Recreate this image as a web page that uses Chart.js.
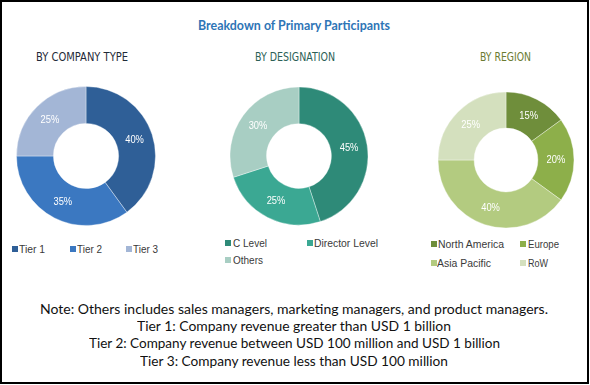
<!DOCTYPE html>
<html><head><meta charset="utf-8">
<script src="https://cdn.jsdelivr.net/npm/chart.js@4.4.1/dist/chart.umd.min.js"></script>
<style>
body{margin:0;background:#fff;}
#wrap{position:relative;width:590px;height:385px;overflow:hidden;background:#fff;}
#frame{position:absolute;left:0;top:0;width:589px;height:384px;border:2px solid #000;box-sizing:border-box;}
.t{position:absolute;white-space:nowrap;line-height:1;transform-origin:0 50%;display:inline-block;}
canvas{position:absolute;}
.sq{position:absolute;width:6px;height:6px;}
</style></head><body>
<div id="wrap"><div id="frame"></div>
<canvas id="c1" width="150" height="150" style="left:11px;top:81px;width:150px;height:150px"></canvas>
<canvas id="c2" width="150" height="150" style="left:224px;top:81px;width:150px;height:150px"></canvas>
<canvas id="c3" width="150" height="150" style="left:431px;top:85px;width:150px;height:150px"></canvas>
</div>
<script>
// ---- data ----
const chartTitle = "Breakdown of Primary Participants";
const panelTitles = ["BY COMPANY TYPE", "BY DESIGNATION", "BY REGION"];
const companyTypeLabels = ["Tier 1", "Tier 2", "Tier 3"];
const companyTypeValues = [40, 35, 25];
const designationLabels = ["C Level", "Director Level", "Others"];
const designationValues = [45, 25, 30];
const regionLabels = ["North America", "Europe", "Asia Pacific", "RoW"];
const regionValues = [15, 20, 40, 25];
const noteLines = [
  "Note: Others includes sales managers, marketing managers, and product managers.",
  "Tier 1: Company revenue greater than USD 1 billion",
  "Tier 2: Company revenue between USD 100 million and USD 1 billion",
  "Tier 3: Company revenue less than USD 100 million"
];

// ---- styles / layout ----
const companyColors = ["#2f5f97", "#3b78c1", "#a3b6d6"];
const designationColors = ["#2e8a78", "#3ba893", "#a8cec3"];
const regionColors = ["#6f8e3b", "#8daf4a", "#b3cb80", "#d4e0be"];
const panelTitleColors = ["#1f2a38", "#2c5f56", "#6b7b31"];

const wrap = document.getElementById('wrap');
function addText(text, o) {
  const s = document.createElement('span');
  s.className = 't';
  s.textContent = text;
  s.style.font = o.font;
  s.style.color = o.color;
  if (o.weight) s.style.fontWeight = o.weight;
  wrap.appendChild(s);
  const r = s.getBoundingClientRect();
  const sc = o.width / r.width;
  s.style.transform = 'scaleX(' + sc + ')';
  const left = (o.cx !== undefined) ? o.cx - o.width / 2 : o.x;
  s.style.left = left + 'px';
  s.style.top = (o.cy - r.height / 2) + 'px';
  return s;
}

addText(chartTitle, {cx: 294, cy: 25, width: 192, font: 'bold 13px Lato, "Noto Sans", sans-serif', color: '#2e75b6'});
const panelTitleBoxes = [[36, 92], [255, 80], [480, 51]];
panelTitles.forEach((t, i) => addText(t, {x: panelTitleBoxes[i][0], cy: 56, width: panelTitleBoxes[i][1],
  font: '13px "Liberation Sans Narrow", "DejaVu Sans Condensed", sans-serif', color: panelTitleColors[i]}));

const noteBoxes = [[308, 508], [325, 314], [342, 411], [360, 308]];
noteLines.forEach((t, i) => addText(t, {cx: 294, cy: noteBoxes[i][0], width: noteBoxes[i][1],
  font: '14px Lato, "Noto Sans", sans-serif', color: '#111'}));

// legends: [squareX, textX, y, textWidth]
const legendLayouts = [
  [[12, 19, 249, 26], [70, 77, 249, 25], [126, 133, 249, 25]],
  [[225, 233, 243, 34], [307, 314, 243, 64], [225, 233, 260, 30]],
  [[431, 438, 244, 66], [520, 528, 244, 31], [431, 437, 263, 54], [520, 528, 263, 20]]
];
function addLegend(labels, colors, layout) {
  labels.forEach((lab, i) => {
    const [sx, tx, y, w] = layout[i];
    const sq = document.createElement('div');
    sq.className = 'sq';
    sq.style.left = sx + 'px';
    sq.style.top = (y - 3) + 'px';
    sq.style.background = colors[i];
    wrap.appendChild(sq);
    addText(lab, {x: tx, cy: y, width: w, font: '11px "Liberation Sans", Arial, sans-serif', color: '#3a3a3a'});
  });
}
addLegend(companyTypeLabels, companyColors, legendLayouts[0]);
addLegend(designationLabels, designationColors, legendLayouts[1]);
addLegend(regionLabels, regionColors, legendLayouts[2]);

// ---- charts ----
const pctPlugin = {
  id: 'pct',
  afterDatasetsDraw(chart) {
    const ctx = chart.ctx;
    const ds = chart.data.datasets[0];
    const meta = chart.getDatasetMeta(0);
    ctx.save();
    ctx.fillStyle = '#ffffff';
    ctx.font = '11px "Liberation Sans", Arial, sans-serif';
    ctx.textAlign = 'center';
    ctx.textBaseline = 'middle';
    meta.data.forEach((arc, i) => {
      const p = arc.getCenterPoint();
      ctx.save();
      ctx.translate(p.x, p.y);
      ctx.scale(0.85, 1);
      ctx.fillText(ds.data[i] + '%', 0, 0);
      ctx.restore();
    });
    ctx.restore();
  }
};
function makeDonut(id, labels, values, colors, radius, cutout) {
  new Chart(document.getElementById(id), {
    type: 'doughnut',
    data: {labels: labels, datasets: [{data: values, backgroundColor: colors,
      borderColor: 'rgba(255,255,255,0.45)', borderWidth: 0.8, radius: radius, cutout: cutout}]},
    options: {
      responsive: false, animation: false,
      layout: {padding: 0},
      plugins: {legend: {display: false}, tooltip: {enabled: false}, title: {display: false}}
    },
    plugins: [pctPlugin]
  });
}
makeDonut('c1', companyTypeLabels, companyTypeValues, companyColors, 69.5, 35);
makeDonut('c2', designationLabels, designationValues, designationColors, 69, 35);
makeDonut('c3', regionLabels, regionValues, regionColors, 68, 35);
</script>
</body></html>
